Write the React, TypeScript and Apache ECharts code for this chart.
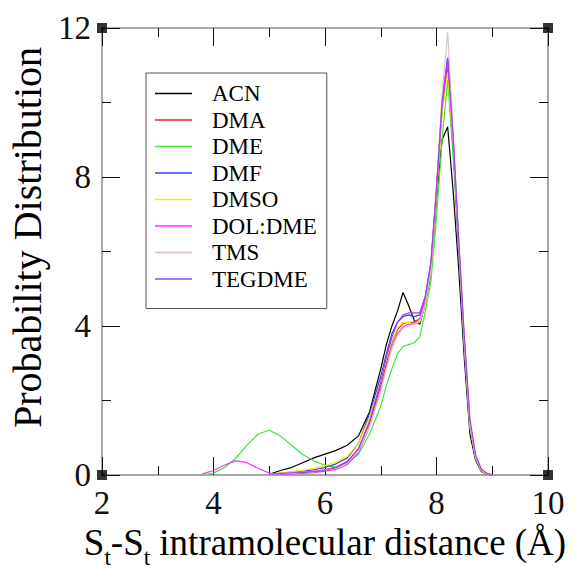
import React, { useEffect, useRef } from 'react';
import * as echarts from 'echarts';

const FONT = 'Liberation Serif';

// shared x grid (Å)
const xs = [3.6, 3.8, 4.0, 4.2, 4.4, 4.6, 4.8, 5.0, 5.2, 5.4, 5.6, 5.8, 6.0, 6.2, 6.4, 6.6, 6.8, 7.0, 7.1, 7.2, 7.3, 7.4, 7.5, 7.6, 7.7, 7.8, 7.9, 8.0, 8.1, 8.2, 8.3, 8.4, 8.5, 8.6, 8.7, 8.8, 8.9, 9.0];

const N = null;
const acn = [N, N, N, N, N, N, N, 0.02, 0.12, 0.2, 0.33, 0.46, 0.56, 0.66, 0.8, 1.05, 1.7, 2.85, 3.5, 4.0, 4.4, 4.9, 4.55, 4.15, 4.05, 4.6, 5.4, 7.4, 9.0, 9.35, 7.6, 5.5, 3.1, 1.1, 0.4, 0.1, 0.02, 0];
const dma = [N, N, N, N, N, N, N, 0.02, 0.04, 0.06, 0.08, 0.1, 0.14, 0.22, 0.36, 0.7, 1.4, 2.4, 3.0, 3.55, 3.9, 4.07, 4.1, 4.1, 4.2, 4.7, 5.6, 7.6, 9.8, 11.0, 8.9, 6.1, 3.5, 1.35, 0.5, 0.15, 0.04, 0];
const dme = [N, 0, 0.05, 0.2, 0.45, 0.8, 1.1, 1.2, 1.05, 0.8, 0.55, 0.38, 0.26, 0.22, 0.32, 0.55, 1.1, 1.85, 2.4, 2.85, 3.25, 3.45, 3.5, 3.55, 3.7, 4.4, 5.2, 6.9, 9.0, 10.6, 8.5, 6.0, 3.4, 1.3, 0.5, 0.15, 0.04, 0];
const dmf = [N, N, N, N, N, N, N, 0.02, 0.05, 0.08, 0.1, 0.14, 0.2, 0.3, 0.46, 0.85, 1.65, 2.65, 3.25, 3.8, 4.1, 4.25, 4.3, 4.25, 4.3, 4.8, 5.7, 7.7, 10.0, 11.2, 8.8, 6.0, 3.4, 1.3, 0.45, 0.13, 0.03, 0];
const dmso = [N, N, N, N, N, N, N, 0.02, 0.05, 0.09, 0.13, 0.18, 0.25, 0.35, 0.5, 0.85, 1.55, 2.5, 3.1, 3.6, 3.95, 4.1, 4.1, 4.05, 4.1, 4.6, 5.5, 7.5, 9.7, 10.8, 8.9, 6.2, 3.5, 1.3, 0.45, 0.12, 0.03, 0];
const dolDme = [N, 0.03, 0.12, 0.27, 0.38, 0.33, 0.18, 0.05, 0.02, 0.02, 0.04, 0.06, 0.1, 0.15, 0.28, 0.6, 1.3, 2.3, 2.9, 3.45, 3.8, 3.98, 4.05, 4.05, 4.2, 4.7, 5.6, 7.6, 9.9, 11.1, 9.0, 6.2, 3.6, 1.4, 0.5, 0.15, 0.04, 0];
const tms = [N, N, N, N, N, N, N, 0.02, 0.04, 0.06, 0.08, 0.1, 0.13, 0.2, 0.33, 0.65, 1.3, 2.25, 2.85, 3.4, 3.75, 3.94, 4.0, 4.05, 4.15, 4.6, 5.5, 7.7, 10.2, 11.9, 9.1, 6.2, 3.6, 1.4, 0.5, 0.15, 0.04, 0];
const tegdme = [N, N, N, N, N, N, N, 0.02, 0.04, 0.06, 0.07, 0.09, 0.12, 0.2, 0.35, 0.7, 1.45, 2.5, 3.15, 3.7, 4.1, 4.3, 4.35, 4.35, 4.35, 4.8, 5.7, 7.7, 10.0, 11.2, 9.1, 6.3, 3.7, 1.5, 0.55, 0.17, 0.05, 0];

const seriesNames = ['ACN', 'DMA', 'DME', 'DMF', 'DMSO', 'DOL:DME', 'TMS', 'TEGDME'];
const seriesValues = [acn, dma, dme, dmf, dmso, dolDme, tms, tegdme];
const seriesColors = ['#000000', '#e02828', '#3ee63e', '#3a3aff', '#f2ee00', '#ff33ff', '#d6c4c4', '#a040e0'];

const xRange = [2, 10];
const yRange = [0, 12];
const xInterval = 2;
const yInterval = 4;

function axisCommon(showLabel: boolean) {
  return {
    type: 'value' as const,
    axisLine: { show: true, onZero: false, lineStyle: { color: '#8a8a8a', width: 1.5 } },
    axisTick: { show: true, inside: true, length: 18, lineStyle: { color: '#111', width: 1 } },
    minorTick: { show: true, splitNumber: 2, length: 9, lineStyle: { color: '#111', width: 1 } },
    splitLine: { show: false },
    minorSplitLine: { show: false },
    axisLabel: { show: showLabel, margin: 11, fontSize: 33, fontFamily: FONT, color: '#111' },
  };
}

export default function App() {
  const ref = useRef<HTMLDivElement>(null);
  useEffect(() => {
    document.body.style.margin = '0';
    const chart = echarts.init(ref.current!, null, { renderer: 'svg' });

    const lineSeries = seriesNames.map((name, i) => ({
      name,
      type: 'line',
      symbol: 'none',
      smooth: false,
      data: xs.map((x, j) => [x, seriesValues[i][j]]).filter((p) => p[1] !== null),
      lineStyle: { color: seriesColors[i], width: 1.2 },
      itemStyle: { color: seriesColors[i] },
      z: 3,
    }));

    const corners = [
      [xRange[0], yRange[0]],
      [xRange[0], yRange[1]],
      [xRange[1], yRange[0]],
      [xRange[1], yRange[1]],
    ];

    chart.setOption({
      animation: false,
      backgroundColor: '#fff',
      textStyle: { fontFamily: FONT },
      grid: { left: 102, right: 26, top: 28, bottom: 94, containLabel: false, outerBoundsMode: 'none' },
      legend: {
        data: seriesNames,
        orient: 'vertical',
        left: 146,
        top: 73,
        icon: 'rect',
        itemWidth: 37,
        itemHeight: 1.5,
        itemGap: 3.5,
        padding: [9, 10, 18, 9],
        borderColor: '#555',
        borderWidth: 1,
        backgroundColor: '#fff',
        selectedMode: false,
        formatter: '{t|{name}}',
        textStyle: {
          fontFamily: FONT,
          fontSize: 23,
          color: '#000',
          rich: {
            t: { fontFamily: FONT, fontSize: 23, color: '#000', lineHeight: 24, padding: [0, 0, 0, 15] },
          },
        },
      },
      xAxis: [
        {
          ...axisCommon(true),
          position: 'bottom',
          min: xRange[0],
          max: xRange[1],
          interval: xInterval,
          name: '{m|S}{s|t}{m|-S}{s|t}{m| intramolecular distance (Å)}',
          nameLocation: 'middle',
          nameGap: 45,
          nameTextStyle: {
            fontFamily: FONT,
            fontSize: 37,
            color: '#000',
            rich: {
              m: { fontFamily: FONT, fontSize: 37, color: '#000', lineHeight: 38, padding: [0, 0, 8, 0], verticalAlign: 'bottom' },
              s: { fontFamily: FONT, fontSize: 23, color: '#000', lineHeight: 20, verticalAlign: 'bottom' },
            },
          },
        },
        {
          ...axisCommon(false),
          position: 'top',
          min: xRange[0],
          max: xRange[1],
          interval: xInterval,
        },
      ],
      yAxis: [
        {
          ...axisCommon(true),
          position: 'left',
          min: yRange[0],
          max: yRange[1],
          interval: yInterval,
          name: 'Probability Distribution',
          nameLocation: 'middle',
          nameGap: 52,
          nameTextStyle: { fontFamily: FONT, fontSize: 40, color: '#000', padding: [0, 0, 0, 28] },
        },
        {
          ...axisCommon(false),
          position: 'right',
          min: yRange[0],
          max: yRange[1],
          interval: yInterval,
        },
      ],
      series: [
        ...lineSeries,
        {
          type: 'scatter',
          data: corners,
          symbol: 'rect',
          symbolSize: 10,
          itemStyle: { color: '#000' },
          clip: false,
          silent: true,
          z: 10,
        },
      ],
    });
    return () => chart.dispose();
  }, []);
  return <div ref={ref} style={{ width: 574, height: 569 }} />;
}
